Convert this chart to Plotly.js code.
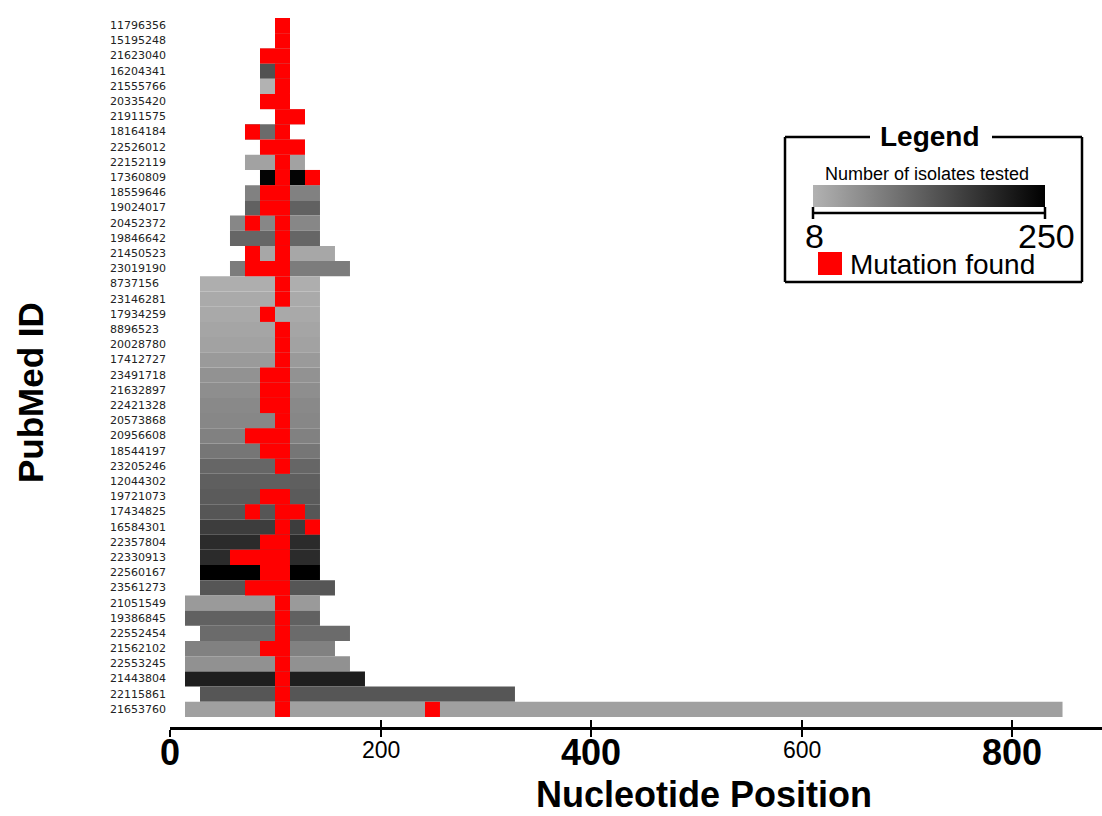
<!DOCTYPE html>
<html>
<head>
<meta charset="utf-8">
<script src="https://cdn.plot.ly/plotly-3.0.1.min.js"></script>
<style>html,body{margin:0;padding:0;background:#fff;}</style>
</head>
<body>
<div id="chart" style="width:1102px;height:816px;"></div>
<script>
// ---- DATA ----
const ids = ["11796356","15195248","21623040","16204341","21555766","20335420","21911575","18164184",
  "22526012","22152119","17360809","18559646","19024017","20452372","19846642","21450523","23019190",
  "8737156","23146281","17934259","8896523","20028780","17412727","23491718","21632897","22421328",
  "20573868","20956608","18544197","23205246","12044302","19721073","17434825","16584301","22357804",
  "22330913","22560167","23561273","21051549","19386845","22552454","21562102","22553245","21443804",
  "22115861","21653760"];

// sequenced region per study (nucleotide positions)
const covStart = [99.75,99.75,85.5,85.5,85.5,85.5,99.75,71.25,85.5,71.25,85.5,71.25,71.25,57,57,71.25,57,
  28.5,28.5,28.5,28.5,28.5,28.5,28.5,28.5,28.5,28.5,28.5,28.5,28.5,28.5,28.5,28.5,28.5,28.5,28.5,28.5,28.5,
  14.25,14.25,28.5,14.25,14.25,14.25,28.5,14.25];
const covEnd = [114,114,114,114,114,114,128.25,114,128.25,128.25,142.5,142.5,142.5,142.5,142.5,156.75,171,
  142.5,142.5,142.5,142.5,142.5,142.5,142.5,142.5,142.5,142.5,142.5,142.5,142.5,142.5,142.5,142.5,142.5,142.5,142.5,142.5,156.75,
  142.5,142.5,171,156.75,171,185.25,327.75,848];

// number of isolates tested per study
const isolates = [20,20,20,140,8,20,20,104,20,30,245,74,118,67,111,23,82,
  14,19,20,26,30,40,51,57,64,67,74,89,112,121,126,133,167,192,192,250,133,
  40,118,104,74,53,209,133,33];

// windows where mutations were found [start, end]
const mutations = [
  [[99.75,114]],[[99.75,114]],[[85.5,114]],[[99.75,114]],[[99.75,114]],[[85.5,114]],[[99.75,128.25]],
  [[71.25,85.5],[99.75,114]],[[85.5,128.25]],[[99.75,114]],[[99.75,114],[128.25,142.5]],
  [[85.5,114]],[[85.5,114]],[[71.25,85.5],[99.75,114]],[[99.75,114]],[[71.25,85.5],[99.75,114]],[[71.25,114]],
  [[99.75,114]],[[99.75,114]],[[85.5,99.75]],[[99.75,114]],[[99.75,114]],[[99.75,114]],[[85.5,114]],
  [[85.5,114]],[[85.5,114]],[[99.75,114]],[[71.25,114]],[[85.5,114]],[[99.75,114]],[],[[85.5,114]],
  [[71.25,85.5],[99.75,128.25]],[[99.75,114],[128.25,142.5]],[[85.5,114]],[[57,114]],[[85.5,114]],[[71.25,114]],
  [[99.75,114]],[[99.75,114]],[[99.75,114]],[[85.5,114]],[[99.75,114]],[[99.75,114]],[[99.75,114]],
  [[99.75,114],[242.25,256.5]]
];

const xTickVals = [0,200,400,600,800];
const isoMin = 8, isoMax = 250;

// ---- geometry helpers (layout decorations only) ----
const W = 1102, H = 816, ML = 170, MR = 0, MT = 18, MB = 89;
const PW = W - ML - MR, PH = H - MT - MB;
const px = v => (v - ML) / PW;
const py = v => (H - MB - v) / PH;
const X_RANGE = [0, 885.5];

const rowIdx = ids.map((_, i) => i);

const grayTrace = {
  type: 'bar', orientation: 'h',
  y: rowIdx,
  x: covEnd.map((e, i) => e - covStart[i]),
  base: covStart,
  width: 1,
  opacity: 1,
  marker: {
    color: isolates,
    colorscale: [[0, 'rgb(178,178,178)'], [1, 'rgb(0,0,0)']],
    cmin: isoMin, cmax: isoMax,
    showscale: true,
    line: {width: 0},
    colorbar: {
      orientation: 'h', lenmode: 'pixels', len: 232, thickness: 22,
      x: px(929), xanchor: 'center', y: py(196), yanchor: 'middle',
      xpad: 0, ypad: 0, outlinewidth: 0, showticklabels: false, ticks: ''
    }
  },
  hoverinfo: 'skip'
};

const mY = [], mX = [], mBase = [];
mutations.forEach((list, i) => list.forEach(w => { mY.push(i); mBase.push(w[0]); mX.push(w[1] - w[0]); }));
const redTrace = {
  type: 'bar', orientation: 'h', xaxis: 'x2', yaxis: 'y',
  y: mY, x: mX, base: mBase, width: 1, opacity: 1,
  marker: {color: '#ff0000', line: {width: 0}}, hoverinfo: 'skip'
};

const sans = 'Liberation Sans, Arial, sans-serif';

const annotations = ids.map((id, i) => ({
  xref: 'paper', yref: 'y', x: px(108), y: i, xanchor: 'left', yanchor: 'middle',
  text: id, showarrow: false, font: {family: 'DejaVu Sans', size: 11, color: '#222'}
}));
// x tick labels (alternating bold/large and plain/small as in the reference)
xTickVals.forEach((v, i) => {
  const big = i % 2 === 0;
  annotations.push({
    xref: 'x', yref: 'paper', x: v, y: py(big ? 752 : 750), xanchor: 'center', yanchor: 'middle',
    text: big ? '<b>' + v + '</b>' : String(v), showarrow: false,
    font: {family: sans, size: big ? 36 : 23, color: '#000'}
  });
});
const ann = (x, y, text, size, extra) => Object.assign({
  xref:'paper', yref:'paper', x: px(x), y: py(y), text: text, showarrow:false,
  xanchor:'center', yanchor:'middle', font:{family: sans, size: size, color:'#000'}
}, extra || {});
annotations.push(
  ann(30, 393, '<b>PubMed ID</b>', 35, {textangle: -90}),
  ann(704, 794, '<b>Nucleotide Position</b>', 36),
  ann(930, 137, '<b>Legend</b>', 28),
  ann(927, 174, 'Number of isolates tested', 18),
  ann(814, 236, String(isoMin), 34),
  ann(1046, 236, String(isoMax), 34),
  ann(848, 264, 'Mutation found', 28, {xanchor: 'left'})
);

const L = {type:'line', xref:'paper', yref:'paper', line:{color:'#000', width:2.5}};
const line = (x0,y0,x1,y1) => Object.assign({}, L, {x0:px(x0), y0:py(y0), x1:px(x1), y1:py(y1)});
const shapes = [
  line(785,137,870,137), line(992,137,1082,137), line(785,137,785,282), line(1082,137,1082,282),
  line(785,282,1082,282),
  line(813,213,1045,213), line(813,207,813,219), line(1045,207,1045,219),
  {type:'rect', xref:'paper', yref:'paper', x0:px(818), x1:px(842), y0:py(252), y1:py(275),
   fillcolor:'#ff0000', line:{width:0}}
];

const layout = {
  width: W, height: H,
  margin: {l: ML, r: MR, t: MT, b: MB, pad: 0},
  paper_bgcolor: '#fff', plot_bgcolor: '#fff',
  barmode: 'overlay', showlegend: false,
  xaxis: {
    range: X_RANGE, tickvals: xTickVals, showticklabels: false,
    ticks: 'outside', ticklen: 7, tickwidth: 2, tickcolor: '#000',
    showline: true, linecolor: '#000', linewidth: 2.5,
    showgrid: false, zeroline: false
  },
  xaxis2: {
    overlaying: 'x', anchor: 'y', side: 'bottom', range: X_RANGE,
    tickvals: xTickVals, showticklabels: false,
    ticks: 'inside', ticklen: 7, tickwidth: 2, tickcolor: '#000',
    showline: false, showgrid: false, zeroline: false
  },
  yaxis: {
    range: [46.16, -0.5], showticklabels: false, showgrid: false, zeroline: false,
    showline: false, ticks: ''
  },
  annotations: annotations,
  shapes: shapes
};

Plotly.newPlot('chart', [grayTrace, redTrace], layout, {displayModeBar: false, staticPlot: true});
</script>
</body>
</html>
